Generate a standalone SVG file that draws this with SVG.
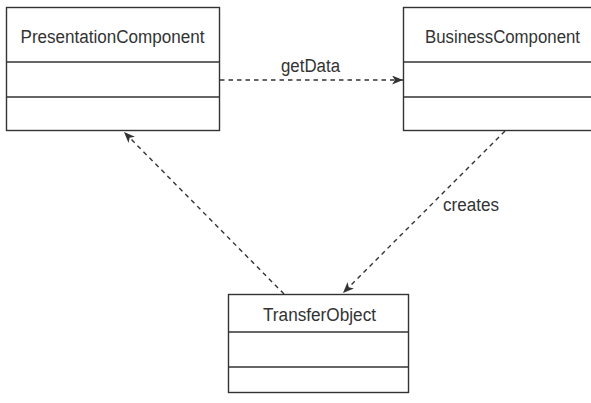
<svg xmlns="http://www.w3.org/2000/svg" width="591" height="403" viewBox="0 0 591 403">
<style>
.box{fill:#fff;stroke:#333;stroke-width:1.4}
.div{stroke:#333;stroke-width:1.4}
.t{font-family:"Liberation Sans",Arial,sans-serif;font-size:18px;fill:#333}
.c{stroke:#333;stroke-width:1.4;stroke-dasharray:4.5,4}
</style>
<defs>
<marker id="ah" markerWidth="12" markerHeight="10" refX="11" refY="4.5" orient="auto" markerUnits="userSpaceOnUse">
<path d="M0,0 L11,4.5 L0,9 L3,4.5 z" fill="#333"/>
</marker>
</defs>
<rect width="591" height="403" fill="#fff"/>
<g id="PresentationComponent">
<rect class="box" x="6.5" y="7.5" width="213" height="123"/>
<line class="div" x1="6.5" y1="62" x2="219.5" y2="62"/>
<line class="div" x1="6.5" y1="97" x2="219.5" y2="97"/>
<text class="t" x="112.5" y="43" text-anchor="middle" textLength="184" lengthAdjust="spacingAndGlyphs">PresentationComponent</text>
</g>
<g id="BusinessComponent">
<rect class="box" x="403.5" y="7.5" width="200" height="123"/>
<line class="div" x1="403.5" y1="62" x2="603" y2="62"/>
<line class="div" x1="403.5" y1="97" x2="603" y2="97"/>
<text class="t" x="502.5" y="43" text-anchor="middle" textLength="155" lengthAdjust="spacingAndGlyphs">BusinessComponent</text>
</g>
<g id="TransferObject">
<rect class="box" x="228.5" y="294.5" width="180" height="98"/>
<line class="div" x1="228.5" y1="332" x2="408.5" y2="332"/>
<line class="div" x1="228.5" y1="367" x2="408.5" y2="367"/>
<text class="t" x="319.5" y="321" text-anchor="middle" textLength="113" lengthAdjust="spacingAndGlyphs">TransferObject</text>
</g>
<g id="connectors">
<line class="c" x1="220" y1="80" x2="403" y2="80" marker-end="url(#ah)"/>
<text class="t" x="310.5" y="72" text-anchor="middle" textLength="59" lengthAdjust="spacingAndGlyphs">getData</text>
<line class="c" x1="284" y1="294" x2="124" y2="132" marker-end="url(#ah)"/>
<line class="c" x1="505" y1="131" x2="343" y2="293" marker-end="url(#ah)"/>
<text class="t" x="443" y="211" textLength="56" lengthAdjust="spacingAndGlyphs">creates</text>
</g>
</svg>
